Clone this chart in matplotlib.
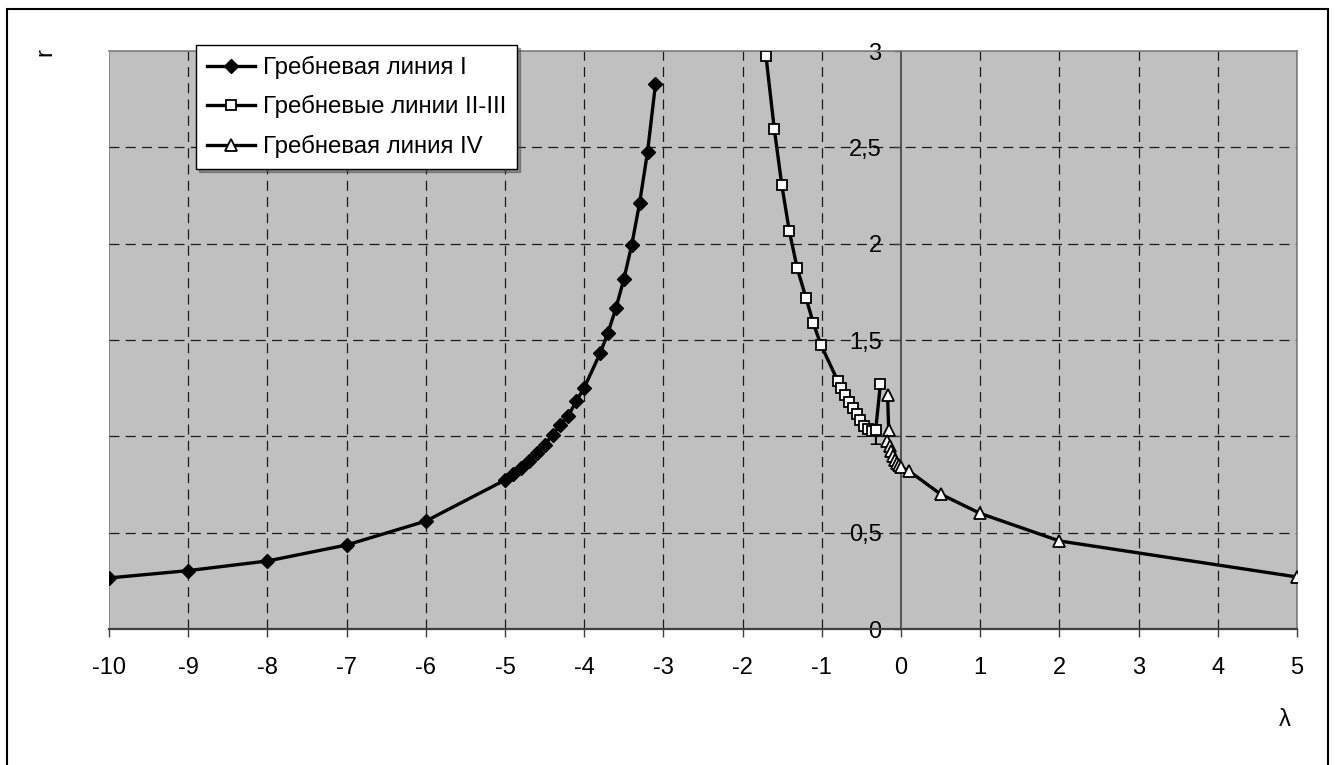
import matplotlib
matplotlib.use("Agg")
import matplotlib.pyplot as plt
from matplotlib.patches import Rectangle

plt.rcParams['font.family'] = ['Liberation Sans', 'DejaVu Sans']

# Гребневая линия I
x1 = [-10, -9, -8, -7, -6, -5, -4.9, -4.8, -4.7, -4.6, -4.5, -4.4, -4.3, -4.2, -4.1, -4.0,
      -3.8, -3.7, -3.6, -3.5, -3.4, -3.3, -3.2, -3.1]
r1 = [0.265, 0.303, 0.353, 0.436, 0.56, 0.773, 0.804, 0.834, 0.873, 0.915, 0.955, 1.007,
      1.059, 1.107, 1.183, 1.252, 1.43, 1.538, 1.664, 1.815, 1.993, 2.212, 2.477, 2.828]

# Гребневые линии II-III
x2 = [-1.72, -1.705, -1.6, -1.505, -1.41, -1.31, -1.2, -1.106, -1.01, -0.8, -0.76, -0.71,
      -0.66, -0.61, -0.56, -0.52, -0.47, -0.42, -0.37, -0.32, -0.26]
r2 = [3.3, 2.974, 2.596, 2.304, 2.065, 1.872, 1.719, 1.586, 1.474, 1.289, 1.249, 1.214,
      1.18, 1.148, 1.116, 1.085, 1.055, 1.038, 1.03, 1.033, 1.271]

# Гребневая линия IV
x3 = [-0.17, -0.155, -0.175, -0.14, -0.12, -0.1, -0.075, -0.05, -0.02, 0.0, 0.1, 0.5, 1, 2, 5]
r3 = [1.214, 1.033, 0.975, 0.95, 0.925, 0.9, 0.878, 0.862, 0.85, 0.843, 0.82, 0.70, 0.60,
      0.457, 0.27]

labels = ["Гребневая линия I", "Гребневые линии II-III", "Гребневая линия IV"]
yticks = [0, 0.5, 1, 1.5, 2, 2.5, 3]
ytick_labels = ["0", "0,5", "1", "1,5", "2", "2,5", "3"]
xticks = list(range(-10, 6))

fig = plt.figure(figsize=(13.35, 7.65), dpi=100)
ax = fig.add_axes([109 / 1335, 136 / 765, 1188 / 1335, 578 / 765])
ax.set_facecolor('#c0c0c0')
ax.set_xlim(-10, 5)
ax.set_ylim(0, 3)

# outer frame of the chart
fig.patches.append(Rectangle((7 / 1335, -0.02), 1321 / 1335, 1 - 9 / 765 + 0.02,
                             transform=fig.transFigure, fill=False,
                             edgecolor='black', lw=1.5))

# grid
dash = (0, (8, 5))
for xv in xticks:
    if xv not in (-10, 0, 5):
        ax.axvline(xv, color='#1a1a1a', lw=0.9, ls=dash, zorder=1)
for yv in yticks[1:-1]:
    ax.axhline(yv, color='#1a1a1a', lw=0.9, ls=dash, zorder=1)

# spines
for s in ('top', 'right'):
    ax.spines[s].set_color('#808080')
    ax.spines[s].set_linewidth(1.2)
ax.spines['left'].set_position(('data', 0))
ax.spines['left'].set_color('#404040')
ax.spines['left'].set_linewidth(1.2)
ax.spines['bottom'].set_color('#404040')
ax.spines['bottom'].set_linewidth(1.6)
ax.add_patch(Rectangle((0, 0), 1, 1, transform=ax.transAxes, fill=False,
                       edgecolor='#808080', lw=1.2, zorder=0.5))

ax.set_xticks(xticks)
ax.set_xticklabels([str(v) for v in xticks])
ax.set_yticks(yticks)
ax.set_yticklabels(ytick_labels)
ax.tick_params(axis='x', direction='out', length=6, width=1, color='#404040',
               labelsize=17, pad=14)
ax.tick_params(axis='y', direction='out', length=5, width=1, color='#404040',
               labelsize=17, pad=9)

ax.plot(x1, r1, color='black', lw=2.4, marker='D', ms=7, mfc='black', mec='black',
        label=labels[0], zorder=3)
ax.plot(x2, r2, color='black', lw=2.4, marker='s', ms=7, mfc='white', mec='black',
        mew=1.3, label=labels[1], zorder=3)
ax.plot(x3, r3, color='black', lw=2.4, marker='^', ms=8, mfc='white', mec='black',
        mew=1.3, label=labels[2], zorder=3)

leg = ax.legend(loc='upper left', bbox_to_anchor=(196 / 1335, 1 - 45 / 765),
                bbox_transform=fig.transFigure, fontsize=17.3, frameon=True,
                fancybox=False, shadow=True, borderaxespad=0, handlelength=2.0,
                handletextpad=0.35, labelspacing=0.68, borderpad=0.45)
leg.get_frame().set_edgecolor('black')
leg.get_frame().set_linewidth(1.0)
leg.get_frame().set_facecolor('white')
leg.get_frame().set_alpha(1)

fig.text(45 / 1335, 1 - 52 / 765, "r", rotation=90, fontsize=17, ha='center', va='center')
fig.text(1285 / 1335, 1 - 720 / 765, "λ", fontsize=17, ha='center', va='center')

fig.savefig("out.png", dpi=100)
